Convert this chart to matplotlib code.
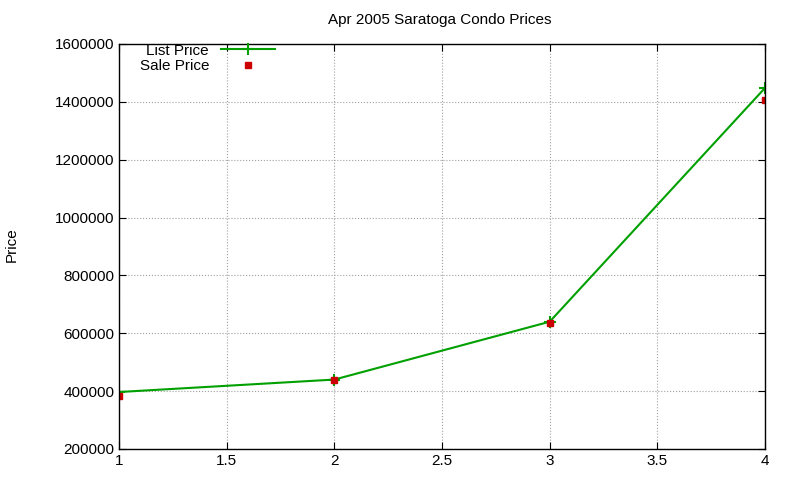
import matplotlib
matplotlib.use("Agg")
import matplotlib.pyplot as plt
from matplotlib.ticker import FuncFormatter

plt.rcParams['font.family'] = ['Liberation Sans', 'DejaVu Sans']

x = [1, 2, 3, 4]
list_price = [397000, 440000, 640000, 1448000]
sale_price = [382000, 440000, 637000, 1408000]

fig = plt.figure(figsize=(8, 4.8), dpi=100)
ax = fig.add_axes([119/800, 1-449/480, (765-119)/800, (449-44)/480])
ax.plot(x, list_price, color="#00a000", lw=1.5, marker="+", ms=9, mew=1.5, label="List Price")
ax.plot(x, sale_price, ls="none", marker="s", color="#cc0000", ms=5, label="Sale Price")
ax.set_xlim(1, 4)
ax.set_ylim(200000, 1600000)
ax.set_xticks([1, 1.5, 2, 2.5, 3, 3.5, 4])
ax.set_xticklabels(["1", "1.5", "2", "2.5", "3", "3.5", "4"])
ax.set_yticks(range(200000, 1600001, 200000))
ax.yaxis.set_major_formatter(FuncFormatter(lambda v, p: f"{int(v)}"))
ax.grid(True, color="#a0a0a0", ls=":", lw=0.8)
ax.tick_params(direction="in", length=5, labelsize=11, top=True, right=True)
for s in ax.spines.values():
    s.set_linewidth(1)
fig.text(12/800, 1-245/480, "Price", rotation=90, fontsize=11, ha="center", va="center")
fig.text(440/800, 1-20/480, "Apr 2005 Saratoga Condo Prices", fontsize=11, ha="center", va="center")
leg = ax.legend(loc="upper left", bbox_to_anchor=(0.02, 1.02), markerfirst=False, frameon=False,
                fontsize=11, handlelength=3.5, borderaxespad=0.1, labelspacing=0.1)
for t in leg.get_texts():
    t.set_ha("right")
fig.savefig("out.png")
